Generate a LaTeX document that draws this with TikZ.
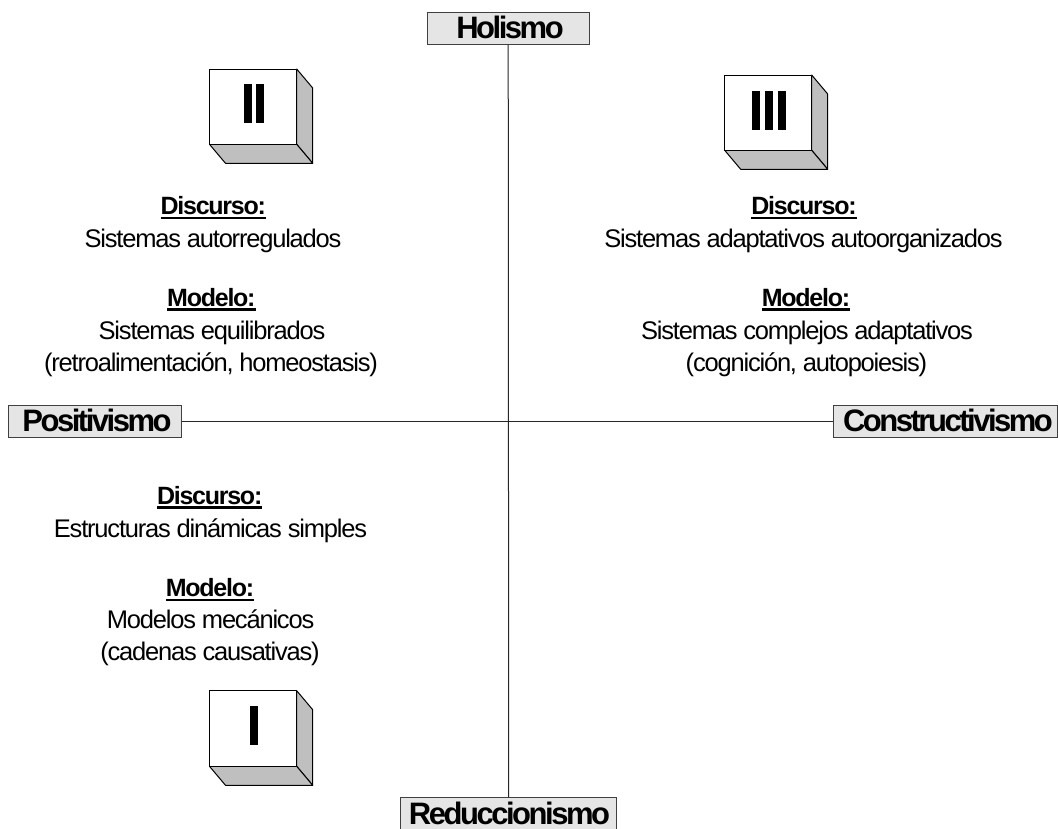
\documentclass[tikz,border=0pt]{standalone}
\usepackage{fontspec}
\setmainfont{Liberation Sans}
\newfontfamily\polefont[LetterSpace=-8]{Liberation Sans}
\newfontfamily\bodyfont[LetterSpace=-4.7]{Liberation Sans}
\newfontfamily\headfont[LetterSpace=-5]{Liberation Sans}
\tikzset{
  x=1pt,y=-1pt,
  axis/.style={draw=black!85,line width=1pt},
  pole/.style={draw=black!75,fill=black!10,line width=1pt,inner sep=0pt,minimum height=32pt,text height=26.4pt,text depth=5.6pt,font=\fontsize{31}{31}\polefont\bfseries},
  poletext/.style={inner sep=0pt,anchor=base,font=\fontsize{31}{31}\polefont\bfseries},
  txt/.style={inner sep=0pt,anchor=base,font=\fontsize{25.5}{25.5}\bodyfont},
  head/.style={inner sep=0pt,anchor=base,font=\fontsize{25}{25}\headfont\bfseries},
  front/.style={draw=black,fill=white,line width=1pt,line join=round},
  side/.style={draw=black,fill=black!25,line width=1pt,line join=round},
  bar/.style={fill=black,draw=none}
}
\newcommand{\cube}[5]{% x1 y1 x2 y2 name
  \draw[side] (#3,#2) -- (#3+16,#2+19) -- (#3+16,#4+19) -- (#3,#4) -- cycle;
  \draw[side] (#1,#4) -- (#1+16,#4+19) -- (#3+16,#4+19) -- (#3,#4) -- cycle;
  \node[front,minimum width=#3pt-#1pt,minimum height=#4pt-#2pt,inner sep=0pt] (#5) at ({(#1+#3)/2},{(#2+#4)/2}) {};
}
\newcommand{\ubar}[1]{\setbox0\hbox{#1}\rlap{\rule[-4.6pt]{\wd0}{2.4pt}}\box0}
\begin{document}
\begin{tikzpicture}
\useasboundingbox (0,0) rectangle (1058,828);
\node[pole,minimum width=162pt] (hol) at (508.2,28.2) {\hspace*{3.6pt}Holismo};
\node[pole,minimum width=173pt] (pos) at (95.3,421) {\hspace*{3.4pt}Positivismo};
\node[pole,minimum width=224pt] (con) at (945.7,421) {\hspace*{4.5pt}Constructivismo};
\node[pole,minimum width=216pt] (red) at (508.7,813.7) {};
\node[poletext] (redt) at (509.5,824) {Reduccionismo};
\draw[axis] (hol) -- (red);
\draw[axis] (pos) -- (con);
\cube{209.5}{69}{296.7}{144.3}{c2}
\fill[bar] (244,83.7) rectangle (252,122.7);
\fill[bar] (256,83.7) rectangle (264,122.7);
\cube{724.7}{75}{811.7}{150.3}{c3}
\fill[bar] (752,90.7) rectangle (760,129.7);
\fill[bar] (765,90.7) rectangle (773,129.7);
\fill[bar] (778,90.7) rectangle (786,129.7);
\cube{209.5}{690.7}{296.7}{766.3}{c1}
\fill[bar] (250,706) rectangle (258,744.7);
% II
\node[head] (a1) at (213.3,214.5) {\ubar{Discurso:}};
\node[txt] (a2) at (213,247.5) {Sistemas autorregulados};
\node[head] (a3) at (211.4,306) {\ubar{Modelo:}};
\node[txt] (a4) at (212,339.2) {Sistemas equilibrados};
\node[txt] (a5) at (211,371.5) {(retroalimentación, homeostasis)};
% III
\node[head] (b1) at (804,214.5) {\ubar{Discurso:}};
\node[txt] (b2) at (803.5,247.5) {Sistemas adaptativos autoorganizados};
\node[head] (b3) at (806,306) {\ubar{Modelo:}};
\node[txt] (b4) at (807,339.2) {Sistemas complejos adaptativos};
\node[txt] (b5) at (806.5,371.5) {(cognición, autopoiesis)};
% I
\node[head] (d1) at (209.7,504) {\ubar{Discurso:}};
\node[txt] (d2) at (210.5,537) {Estructuras dinámicas simples};
\node[head] (d3) at (210,596.5) {\ubar{Modelo:}};
\node[txt] (d4) at (210.6,628.7) {Modelos mecánicos};
\node[txt] (d5) at (210,660) {(cadenas causativas)};
\end{tikzpicture}
\end{document}
